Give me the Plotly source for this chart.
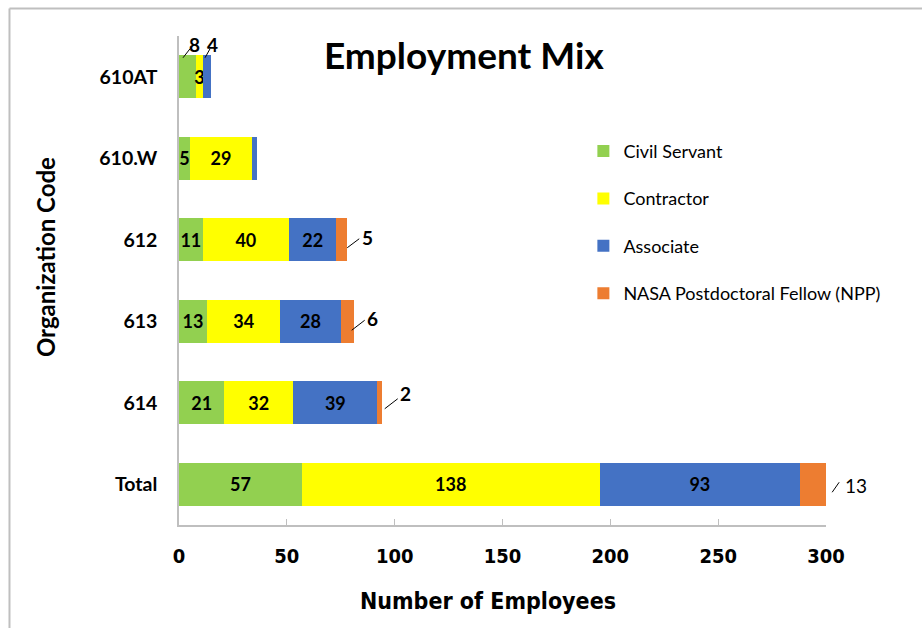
import plotly.graph_objects as go

# Employment mix per organization code (top to bottom)
categories = ["610AT", "610.W", "612", "613", "614", "Total"]
civil_servant = [8, 5, 11, 13, 21, 57]
contractor = [3, 29, 40, 34, 32, 138]
associate = [4, 2, 22, 28, 39, 93]
npp = [0, 0, 5, 6, 2, 13]

series_names = ["Civil Servant", "Contractor", "Associate", "NASA Postdoctoral Fellow (NPP)"]
series_values = [civil_servant, contractor, associate, npp]
series_colors = ["#92d050", "#ffff00", "#4472c4", "#ed7d31"]

# Segments whose value is written beside the bar with a leader line
# (series index, category)
callouts = [(0, "610AT"), (2, "610AT"), (3, "612"), (3, "613"), (3, "614"), (3, "Total")]

X_MAX = 300
PLOT_W, PLOT_H = 647, 489
N_CAT = len(categories)

NARROW = "DejaVu Sans Condensed, Roboto Condensed, Roboto"
LABEL_FONT = dict(family="Lato", size=18, color="black", weight="bold")

fig = go.Figure()
for k, (name, vals, col) in enumerate(zip(series_names, series_values, series_colors)):
    texts = []
    for cat, v in zip(categories, vals):
        if v == 0 or (k, cat) in callouts or (k == 2 and cat == "610.W"):
            texts.append("")
        else:
            texts.append(str(v))
    fig.add_trace(go.Bar(
        y=categories, x=vals, name=name, orientation="h",
        marker=dict(color=col, line=dict(width=0)),
        text=texts, textposition="inside", insidetextanchor="middle",
        textangle=0, constraintext="none",
        insidetextfont=LABEL_FONT,
        legendgroup=name,
    ))


def cum_value(k, cat):
    i = categories.index(cat)
    start = sum(series_values[s][i] for s in range(k))
    return start, start + series_values[k][i]


def paper_x(v, dx=0.0):
    return v / X_MAX + dx / PLOT_W


def paper_y(cat, dy=0.0):
    j = categories.index(cat)
    return 1 - (j + 0.5) / N_CAT + dy / PLOT_H


# leader-line geometry in pixels relative to an anchor on the segment:
# (anchor: "mid"/"end", line dx0, dy0, dx1, dy1, text dx, text dy, bold)
callout_style = {
    (0, "610AT"): ("mid", -4.6, 19, 2.4, 28, 6.4, 32, True),
    (2, "610AT"): ("mid", -2, 19, 3, 28, 5, 32, True),
    (3, "612"): ("end", 0, -8, 12, 1, 20, 2, True),
    (3, "613"): ("end", -2, -9, 11, 1, 19, 3, True),
    (3, "614"): ("end", 3, -6, 16, 4, 24, 9, True),
    (3, "Total"): ("end", 4, -8, 11, 2, 28, -1, False),
}

shapes = []
annotations = []
for key in callouts:
    k, cat = key
    anchor, lx0, ly0, lx1, ly1, tx, ty, bold = callout_style[key]
    s, e = cum_value(k, cat)
    av = (s + e) / 2 if anchor == "mid" else e
    shapes.append(dict(
        type="line", xref="paper", yref="paper",
        x0=paper_x(av, lx0), y0=paper_y(cat, ly0),
        x1=paper_x(av, lx1), y1=paper_y(cat, ly1),
        line=dict(color="black", width=1),
    ))
    val = series_values[k][categories.index(cat)]
    annotations.append(dict(
        xref="paper", yref="paper", x=paper_x(av, tx), y=paper_y(cat, ty),
        text=str(val), showarrow=False, xanchor="center", yanchor="middle",
        font=dict(family="Lato", size=19, color="black",
                  weight="bold" if bold else "normal"),
    ))

# chart title and axis titles
annotations += [
    dict(xref="paper", yref="paper", x=0.4405, y=0.963, text="Employment Mix",
         showarrow=False, xanchor="center", yanchor="middle",
         font=dict(family="Lato", size=37, color="black", weight="bold")),
    dict(xref="paper", yref="paper", x=0.4776, y=-0.155, text="Number of Employees",
         showarrow=False, xanchor="center", yanchor="middle",
         font=dict(family=NARROW, size=23, color="black", weight="bold")),
    dict(xref="paper", yref="paper", x=-0.207, y=0.548, text="Organization Code",
         showarrow=False, xanchor="center", yanchor="middle", textangle=-90,
         font=dict(family="Lato", size=24, color="black", weight="bold")),
]

# thin frame on the left and top edges
frame = dict(color="#bfbfbf", width=2)
shapes += [
    dict(type="line", xref="paper", yref="paper",
         x0=-0.262, y0=1.0563, x1=-0.262, y1=-0.25, line=frame),
    dict(type="line", xref="paper", yref="paper",
         x0=-0.262, y0=1.0563, x1=1.2, y1=1.0563, line=frame),
]

fig.update_layout(
    barmode="stack", bargap=0.47,
    width=922, height=628,
    margin=dict(l=179, r=96, t=36, b=103),
    paper_bgcolor="white", plot_bgcolor="white",
    showlegend=True,
    legend=dict(
        x=0.625, y=0.802, xanchor="left", yanchor="top",
        traceorder="grouped", tracegroupgap=21,
        font=dict(family="Lato", size=18, color="black"),
        itemwidth=30,
    ),
    xaxis=dict(
        range=[0, X_MAX], tickvals=[0, 50, 100, 150, 200, 250, 300],
        ticks="inside", ticklen=6, tickcolor="#bfbfbf",
        showline=True, linecolor="#bfbfbf", linewidth=1.5,
        showgrid=False, zeroline=False,
        tickfont=dict(family=NARROW, size=20, color="black", weight="bold"),
        ticklabelstandoff=12,
    ),
    yaxis=dict(
        categoryorder="array", categoryarray=categories, autorange="reversed",
        showline=True, linecolor="#bfbfbf", linewidth=1.5,
        showgrid=False, zeroline=False, ticks="",
        tickfont=dict(family="Lato", size=19.5, color="black", weight="bold"),
        ticklabelstandoff=16,
    ),
    shapes=shapes,
    annotations=annotations,
)

fig.write_html("out.html")
